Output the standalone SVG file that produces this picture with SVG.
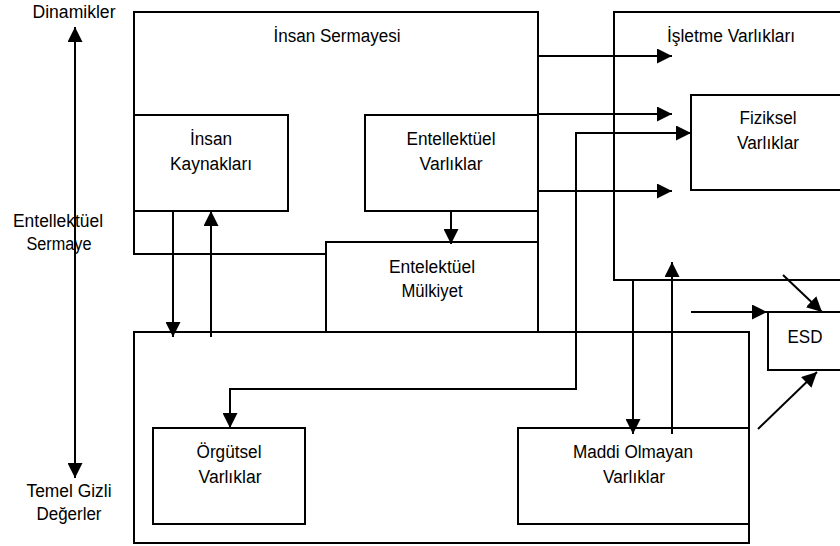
<svg xmlns="http://www.w3.org/2000/svg" width="840" height="546" viewBox="0 0 840 546">
<style>
.box{fill:#fff;stroke:#000;stroke-width:2}
.c{fill:none;stroke:#000;stroke-width:2}
text{font-family:"Liberation Sans",Arial,sans-serif;font-size:18px;fill:#000;text-anchor:middle}
</style>
<defs>
<marker id="ah" viewBox="0 0 15 15" refX="15" refY="7.5" markerWidth="15" markerHeight="15" markerUnits="userSpaceOnUse" orient="auto-start-reverse">
<path d="M0,0 L15,7.5 L0,15 z" fill="#000"/>
</marker>
</defs>
<rect width="840" height="546" fill="#fff"/>
<g id="labels">
<text x="74" y="18" textLength="83" lengthAdjust="spacingAndGlyphs">Dinamikler</text>
<text x="58" y="227" textLength="90" lengthAdjust="spacingAndGlyphs">Entellektüel</text>
<text x="59" y="250" textLength="65" lengthAdjust="spacingAndGlyphs">Sermaye</text>
<text x="69" y="497" textLength="85" lengthAdjust="spacingAndGlyphs">Temel Gizli</text>
<text x="69" y="520" textLength="65" lengthAdjust="spacingAndGlyphs">Değerler</text>
</g>
<g id="insan-sermayesi">
<rect class="box" x="134" y="12" width="404" height="242"/>
<text x="337" y="42" textLength="127" lengthAdjust="spacingAndGlyphs">İnsan Sermayesi</text>
</g>
<g id="insan-kaynaklari">
<rect class="box" x="134" y="115" width="154" height="96"/>
<text x="211" y="145" textLength="42" lengthAdjust="spacingAndGlyphs">İnsan</text>
<text x="211" y="170" textLength="82" lengthAdjust="spacingAndGlyphs">Kaynakları</text>
</g>
<g id="entellektuel-varliklar">
<rect class="box" x="365" y="115" width="173" height="96"/>
<text x="451" y="145" textLength="89" lengthAdjust="spacingAndGlyphs">Entellektüel</text>
<text x="451" y="170" textLength="63" lengthAdjust="spacingAndGlyphs">Varlıklar</text>
</g>
<g id="entelektuel-mulkiyet">
<rect class="box" x="326" y="242" width="212" height="90"/>
<text x="432" y="273" textLength="86" lengthAdjust="spacingAndGlyphs">Entelektüel</text>
<text x="432" y="297" textLength="61" lengthAdjust="spacingAndGlyphs">Mülkiyet</text>
</g>
<g id="yapisal-sermaye">
<rect class="box" x="134" y="332" width="615" height="211"/>
</g>
<g id="orgutsel-varliklar">
<rect class="box" x="153" y="428" width="152" height="96"/>
<text x="229" y="458" textLength="65" lengthAdjust="spacingAndGlyphs">Örgütsel</text>
<text x="230" y="483" textLength="63" lengthAdjust="spacingAndGlyphs">Varlıklar</text>
</g>
<g id="maddi-olmayan-varliklar">
<rect class="box" x="518" y="428" width="231" height="96"/>
<text x="633" y="458" textLength="120" lengthAdjust="spacingAndGlyphs">Maddi Olmayan</text>
<text x="634" y="483" textLength="62" lengthAdjust="spacingAndGlyphs">Varlıklar</text>
</g>
<g id="isletme-varliklari">
<rect class="box" x="614" y="12" width="240" height="268"/>
<text x="731" y="42" textLength="128" lengthAdjust="spacingAndGlyphs">İşletme Varlıkları</text>
</g>
<g id="fiziksel-varliklar">
<rect class="box" x="691" y="95" width="160" height="95"/>
<text x="768" y="124" textLength="57" lengthAdjust="spacingAndGlyphs">Fiziksel</text>
<text x="768" y="149" textLength="62" lengthAdjust="spacingAndGlyphs">Varlıklar</text>
</g>
<g id="esd">
<rect class="box" x="768" y="312" width="90" height="58"/>
<text x="805" y="343" textLength="35" lengthAdjust="spacingAndGlyphs">ESD</text>
</g>
<g id="connectors">
<line class="c" x1="75" y1="27" x2="75" y2="478" marker-start="url(#ah)" marker-end="url(#ah)"/>
<line class="c" x1="538" y1="56" x2="672" y2="56" marker-end="url(#ah)"/>
<line class="c" x1="538" y1="114" x2="672" y2="114" marker-end="url(#ah)"/>
<line class="c" x1="538" y1="191" x2="672" y2="191" marker-end="url(#ah)"/>
<line class="c" x1="451" y1="211" x2="451" y2="244" marker-end="url(#ah)"/>
<line class="c" x1="173" y1="211" x2="173" y2="337" marker-end="url(#ah)"/>
<line class="c" x1="211" y1="337" x2="211" y2="211" marker-end="url(#ah)"/>
<polyline class="c" points="230,428 230,389 576,389 576,133 691,133" marker-start="url(#ah)" marker-end="url(#ah)"/>
<line class="c" x1="633" y1="280" x2="633" y2="434" marker-end="url(#ah)"/>
<line class="c" x1="672" y1="434" x2="672" y2="262" marker-end="url(#ah)"/>
<line class="c" x1="691" y1="312" x2="767" y2="312" marker-end="url(#ah)"/>
<line class="c" x1="783" y1="275" x2="822" y2="312" marker-end="url(#ah)"/>
<line class="c" x1="758" y1="429" x2="817" y2="372" marker-end="url(#ah)"/>
</g>
</svg>
